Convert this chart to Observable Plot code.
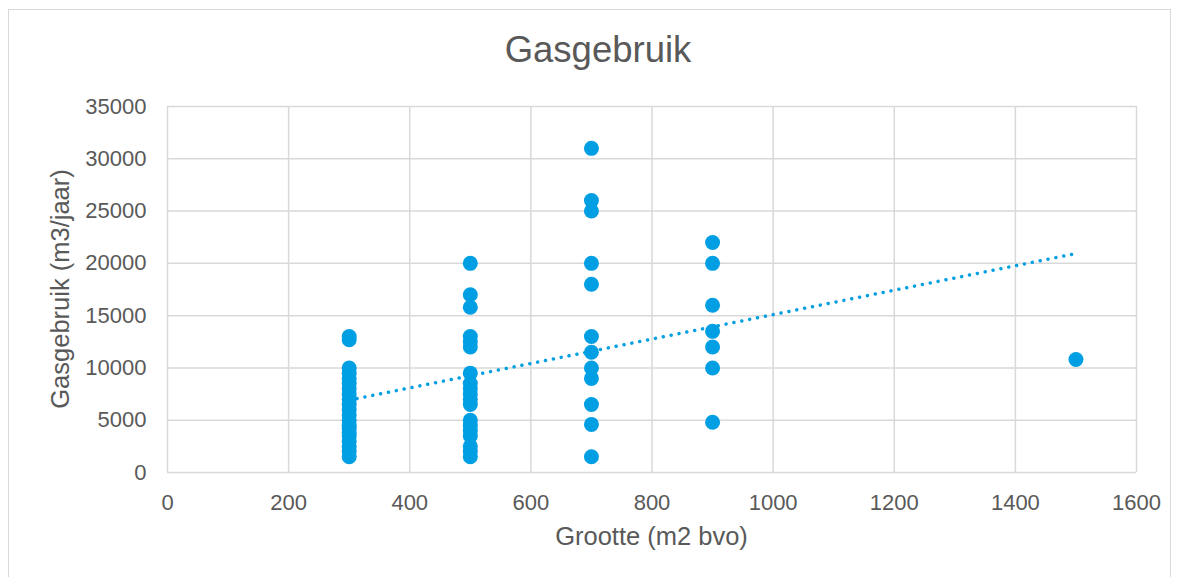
<!DOCTYPE html>
<html>
<head>
<meta charset="utf-8">
<script src="https://cdn.jsdelivr.net/npm/d3@7"></script>
<script src="https://cdn.jsdelivr.net/npm/@observablehq/plot@0.6"></script>
<style>
  html, body { margin: 0; padding: 0; background: #fff; }
  #wrap { position: relative; width: 1180px; height: 577px; overflow: hidden; font-family: "Liberation Sans", Arial, sans-serif; }
  #border { position: absolute; left: 8px; top: 9px; width: 1163px; height: 600px; border: 1.5px solid #d9d9d9; box-sizing: border-box; }
  #chart { position: absolute; left: 0; top: 0; }
  .lbl { position: absolute; color: #595959; white-space: nowrap; }
  #title { left: 0; width: 1196px; top: 29px; text-align: center; font-size: 36.5px; }
  #xlabel { left: 167px; width: 969px; top: 522px; text-align: center; font-size: 25.5px; }
  #ylabel { left: 60px; top: 289px; font-size: 25.5px; transform: translate(-50%, -50%) rotate(-90deg); }
</style>
</head>
<body>
<div id="wrap">
  <div id="border"></div>
  <div id="chart"></div>
  <div id="title" class="lbl">Gasgebruik</div>
  <div id="xlabel" class="lbl">Grootte (m2 bvo)</div>
  <div id="ylabel" class="lbl">Gasgebruik (m3/jaar)</div>
</div>
<script>
// Data
const size300 = [13000, 12700, 10000, 9500, 9000, 8500, 8000, 7500, 7000, 6500, 6000, 5500, 5000, 4500, 4200, 3800, 3500, 3000, 2500, 2000, 1500];
const size500 = [20000, 17000, 15800, 13000, 12500, 12000, 9500, 8500, 8000, 7500, 7000, 6500, 5000, 4500, 4000, 3500, 2500, 2000, 1500];
const size700 = [31000, 26000, 25000, 20000, 18000, 13000, 11500, 10000, 9000, 6500, 4600, 1500];
const size900 = [22000, 20000, 16000, 13500, 12000, 10000, 4800];
const size1500 = [10800];
const xTicks = [0, 200, 400, 600, 800, 1000, 1200, 1400, 1600];
const yTicks = [0, 5000, 10000, 15000, 20000, 25000, 30000, 35000];

const groups = [[300, size300], [500, size500], [700, size700], [900, size900], [1500, size1500]];
const data = groups.flatMap(([x, ys]) => ys.map(y => ({x, y})));

const blue = "#009fe3";
const grid = "#d9d9d9";

const chart = Plot.plot({
  width: 1180,
  height: 577,
  marginLeft: 167,
  marginRight: 44,
  marginTop: 106,
  marginBottom: 105,
  style: { fontFamily: "Liberation Sans, Arial, sans-serif", background: "transparent", color: "#595959" },
  x: { domain: [0, 1600], ticks: xTicks, label: null },
  y: { domain: [0, 35000], ticks: yTicks, label: null },
  marks: [
    Plot.gridX(xTicks, { stroke: grid, strokeOpacity: 1, strokeWidth: 1.5 }),
    Plot.gridY(yTicks, { stroke: grid, strokeOpacity: 1, strokeWidth: 1.5 }),
    Plot.axisX(xTicks, { tickSize: 0, tickPadding: 22, fontSize: 22, fill: "#595959", label: null, tickFormat: d => String(d) }),
    Plot.axisY(yTicks, { tickSize: 0, tickPadding: 21, fontSize: 22, fill: "#595959", label: null, tickFormat: d => String(d) }),
    Plot.dot(data, { x: "x", y: "y", r: 7.5, fill: blue, stroke: "none" }),
    Plot.linearRegressionY(data, { x: "x", y: "y", stroke: blue, strokeWidth: 3.5, strokeDasharray: "0.01 8", strokeLinecap: "round", ci: 0 })
  ]
});
document.getElementById("chart").appendChild(chart);
</script>
</body>
</html>
